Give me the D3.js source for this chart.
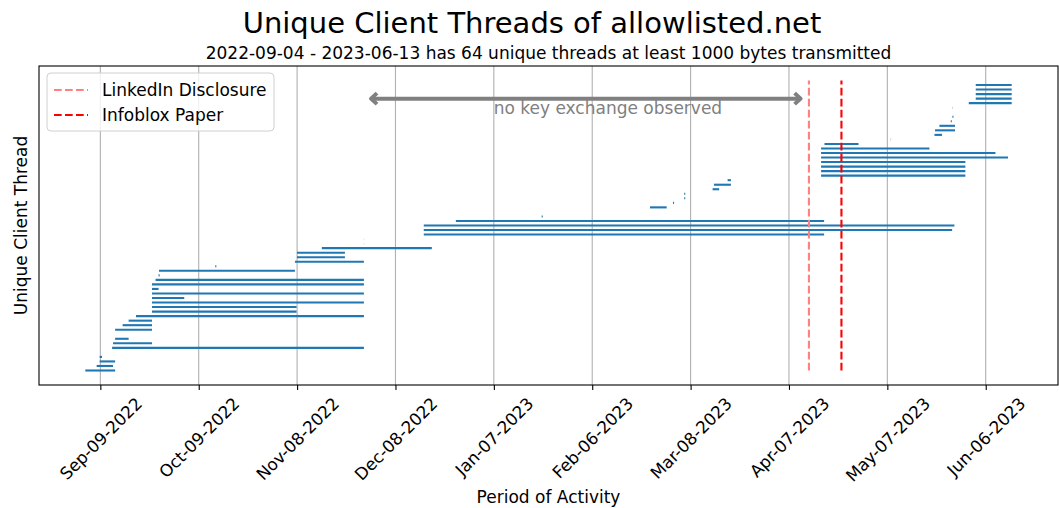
<!DOCTYPE html>
<html>
<head>
<meta charset="utf-8">
<script src="https://cdn.jsdelivr.net/npm/d3@7"></script>
<style>
  body { margin: 0; background: #fff; }
  svg text { font-family: "DejaVu Sans", sans-serif; fill: #000; }
</style>
</head>
<body>
<svg id="chart" width="1059" height="508"></svg>
<script>
//Datos
const threadStart = [
  "2022-09-04 10:00", "2022-09-07 21:00", "2022-09-08 19:00", "2022-09-08 19:00", "2022-09-10 12:00",
  "2022-09-12 14:00", "2022-09-12 21:00", "2022-09-13 12:00", "2022-09-15 00:00", "2022-09-13 12:00",
  "2022-09-15 19:00", "2022-09-17 15:00", "2022-09-19 21:00", "2022-09-24 18:00", "2022-09-24 18:00",
  "2022-09-24 18:00", "2022-09-24 18:00", "2022-09-24 18:00", "2022-09-24 18:00", "2022-09-24 18:00",
  "2022-09-25 20:00", "2022-09-26 18:00", "2022-09-26 21:00", "2022-10-14 01:00", "2022-11-07 08:00",
  "2022-11-07 23:00", "2022-11-07 23:00", "2022-11-15 13:00", "2022-11-28 09:00", "2022-11-28 09:00",
  "2022-12-16 15:00", "2022-12-16 15:00", "2022-12-16 15:00", "2022-12-26 10:00", "2023-01-21 14:00",
  "2023-02-15 00:00", "2023-02-23 15:00", "2023-03-02 15:00", "2023-03-06 01:00", "2023-03-06 01:00",
  "2023-03-14 17:00", "2023-03-15 03:00", "2023-03-19 07:00", "2023-04-16 19:00", "2023-04-16 19:00",
  "2023-04-16 19:00", "2023-04-16 19:00", "2023-04-16 19:00", "2023-04-16 19:00", "2023-04-16 19:00",
  "2023-04-17 20:00", "2023-05-08 01:00", "2023-05-21 09:00", "2023-05-21 13:00", "2023-05-22 21:00",
  "2023-05-26 08:00", "2023-05-26 20:00", "2023-05-27 00:00", "2023-05-26 20:00", "2023-05-31 20:00",
  "2023-06-02 23:00", "2023-06-02 23:00", "2023-06-02 23:00", "2023-06-02 23:00"
];
const threadEnd = [
  "2022-09-13 12:00", "2022-09-12 21:00", "2022-09-13 12:00", "2022-09-09 12:00", "2022-09-10 12:00",
  "2022-11-28 09:00", "2022-09-24 18:00", "2022-09-17 15:00", "2022-09-15 00:00", "2022-09-24 18:00",
  "2022-09-24 18:00", "2022-09-24 18:00", "2022-11-28 09:00", "2022-11-07 20:00", "2022-11-07 20:00",
  "2022-11-28 09:00", "2022-10-04 14:00", "2022-11-28 09:00", "2022-09-26 18:00", "2022-11-28 09:00",
  "2022-11-28 09:00", "2022-09-27 02:00", "2022-11-07 08:00", "2022-10-14 09:00", "2022-11-28 09:00",
  "2022-11-22 14:00", "2022-11-22 14:00", "2022-12-19 02:00", "2022-11-28 10:00", "2022-11-28 10:00",
  "2023-04-17 17:00", "2023-05-26 18:00", "2023-05-27 11:00", "2023-04-17 17:00", "2023-01-21 22:00",
  "2023-02-15 00:00", "2023-02-28 17:00", "2023-03-02 23:00", "2023-03-06 09:00", "2023-03-06 09:00",
  "2023-03-16 17:00", "2023-03-20 07:00", "2023-03-20 07:00", "2023-05-30 19:00", "2023-05-30 19:00",
  "2023-05-30 19:00", "2023-05-30 19:00", "2023-06-12 19:00", "2023-06-08 23:00", "2023-05-19 20:00",
  "2023-04-28 05:00", "2023-05-08 03:00", "2023-05-23 16:00", "2023-05-27 15:00", "2023-05-27 15:00",
  "2023-05-26 16:00", "2023-05-27 04:00", "2023-05-27 00:00", "2023-05-26 22:00", "2023-06-13 22:00",
  "2023-06-13 22:00", "2023-06-13 22:00", "2023-06-13 22:00", "2023-06-13 22:00"
];
const tickDates = [
  "2022-09-09", "2022-10-09", "2022-11-08", "2022-12-08", "2023-01-07",
  "2023-02-06", "2023-03-08", "2023-04-07", "2023-05-07", "2023-06-06"
];
const eventNames = ["LinkedIn Disclosure", "Infoblox Paper"];
const eventDates = ["2023-04-13 02:00", "2023-04-23 00:00"];
const eventColors = ["#ff8080", "#ff0000"];

const gapLabel = "no key exchange observed";
const gapStart = "2022-11-30 02:00";
const gapEnd = "2023-04-11 00:00";
const gapLabelDate = "2023-02-10 19:00";
const gapY = 60;
const gapLabelY = 58;

const titulo = "Unique Client Threads of allowlisted.net";
const subtitulo = "2022-09-04 - 2023-06-13 has 64 unique threads at least 1000 bytes transmitted";

const parseTime = d3.timeParse("%Y-%m-%d %H:%M");
const parseDay = d3.timeParse("%Y-%m-%d");

//Dibujar
function dibujarGrafico() {
  let svg = d3.select("#chart");
  let left = 39, right = 1058, top = 66, bottom = 385;

  let starts = threadStart.map(parseTime);
  let ends = threadEnd.map(parseTime);

  // dominio con margen del 5% como matplotlib
  let xMin = d3.min(starts), xMax = d3.max(ends);
  let xPad = (xMax - xMin) * 0.05;
  let x = d3.scaleTime()
    .domain([new Date(+xMin - xPad), new Date(+xMax + xPad)])
    .range([left, right]);

  let yMax = threadStart.length;
  let y = d3.scaleLinear()
    .domain([-yMax * 0.05, yMax * 1.05])
    .range([bottom, top]);

  let ticks = tickDates.map(parseDay);

  // rejilla
  svg.append("g").selectAll("line")
    .data(ticks)
    .enter().append("line")
    .attr("x1", d => x(d)).attr("x2", d => x(d))
    .attr("y1", top).attr("y2", bottom)
    .attr("stroke", "#b0b0b0")
    .attr("stroke-width", 1.1);

  // hilos
  svg.append("g").selectAll("line")
    .data(threadStart.map((s, i) => i))
    .enter().append("line")
    .attr("x1", i => x(starts[i]))
    .attr("x2", i => x(ends[i]))
    .attr("y1", i => y(i))
    .attr("y2", i => y(i))
    .attr("stroke", "#1f77b4")
    .attr("stroke-width", 2.1);

  // eventos
  svg.append("g").selectAll("line")
    .data(eventDates)
    .enter().append("line")
    .attr("x1", d => x(parseTime(d))).attr("x2", d => x(parseTime(d)))
    .attr("y1", y(0)).attr("y2", y(yMax))
    .attr("stroke", (d, i) => eventColors[i])
    .attr("stroke-width", 2.1)
    .attr("stroke-dasharray", "7.7,3.3");

  // flecha
  let ax1 = x(parseTime(gapStart)) + 1.5, ax2 = x(parseTime(gapEnd)) - 1.5, ay = y(gapY);
  let flecha = svg.append("g")
    .attr("fill", "none")
    .attr("stroke", "#808080")
    .attr("stroke-width", 4)
    .attr("stroke-linejoin", "round");
  flecha.append("line")
    .attr("x1", ax1).attr("x2", ax2)
    .attr("y1", ay).attr("y2", ay);
  flecha.append("path")
    .attr("d", `M${ax1 + 6},${ay - 5.5}L${ax1},${ay}L${ax1 + 6},${ay + 5.5}`);
  flecha.append("path")
    .attr("d", `M${ax2 - 6},${ay - 5.5}L${ax2},${ay}L${ax2 - 6},${ay + 5.5}`);

  svg.append("text")
    .attr("x", x(parseTime(gapLabelDate)))
    .attr("y", y(gapLabelY))
    .attr("text-anchor", "middle")
    .attr("dominant-baseline", "central")
    .style("font-size", "17px")
    .style("fill", "#808080")
    .text(gapLabel);

  // ejes
  svg.append("rect")
    .attr("x", left).attr("y", top)
    .attr("width", right - left).attr("height", bottom - top)
    .attr("fill", "none")
    .attr("stroke", "#000")
    .attr("stroke-width", 1.1);

  let ejeX = svg.append("g")
    .attr("transform", "translate(0," + bottom + ")")
    .call(d3.axisBottom(x)
      .tickValues(ticks)
      .tickSize(4.9)
      .tickFormat(d3.timeFormat("%b-%d-%Y")));
  ejeX.select(".domain").remove();
  ejeX.selectAll(".tick line").attr("stroke", "#000").attr("stroke-width", 1.1);
  ejeX.selectAll(".tick text").each(function () {
    let t = d3.select(this);
    t.attr("y", null).attr("dy", null)
      .attr("text-anchor", "middle")
      .attr("dominant-baseline", "central")
      .style("font-family", "DejaVu Sans")
      .style("font-size", "16.8px")
      .attr("fill", "#000");
    let w = this.getComputedTextLength();
    let h = 16.8 * 1.16;
    let s = (w + h) / Math.SQRT2;
    t.attr("transform", "translate(0," + (8.5 + s / 2) + ") rotate(-45)");
  });

  // leyenda
  let leyenda = svg.append("g");
  leyenda.append("rect")
    .attr("x", 47).attr("y", 73)
    .attr("width", 227).attr("height", 58)
    .attr("rx", 4)
    .attr("fill", "#fff").attr("fill-opacity", 0.8)
    .attr("stroke", "#d0d0d0");
  eventNames.forEach(function (nombre, i) {
    let ly = 90 + i * 25;
    leyenda.append("line")
      .attr("x1", 54).attr("x2", 88)
      .attr("y1", ly).attr("y2", ly)
      .attr("stroke", eventColors[i])
      .attr("stroke-width", 2.1)
      .attr("stroke-dasharray", "7.7,3.3");
    leyenda.append("text")
      .attr("x", 102).attr("y", ly)
      .attr("dominant-baseline", "central")
      .style("font-size", "17px")
      .text(nombre);
  });

  // textos
  svg.append("text")
    .attr("x", 532).attr("y", 33)
    .attr("text-anchor", "middle")
    .style("font-size", "29px")
    .text(titulo);

  svg.append("text")
    .attr("x", (left + right) / 2).attr("y", 59)
    .attr("text-anchor", "middle")
    .style("font-size", "17px")
    .text(subtitulo);

  svg.append("text")
    .attr("x", (left + right) / 2).attr("y", 503)
    .attr("text-anchor", "middle")
    .style("font-size", "17px")
    .text("Period of Activity");

  svg.append("text")
    .attr("transform", "translate(27," + (top + bottom) / 2 + ") rotate(-90)")
    .attr("text-anchor", "middle")
    .style("font-size", "17px")
    .text("Unique Client Thread");
}

dibujarGrafico();
</script>
</body>
</html>
